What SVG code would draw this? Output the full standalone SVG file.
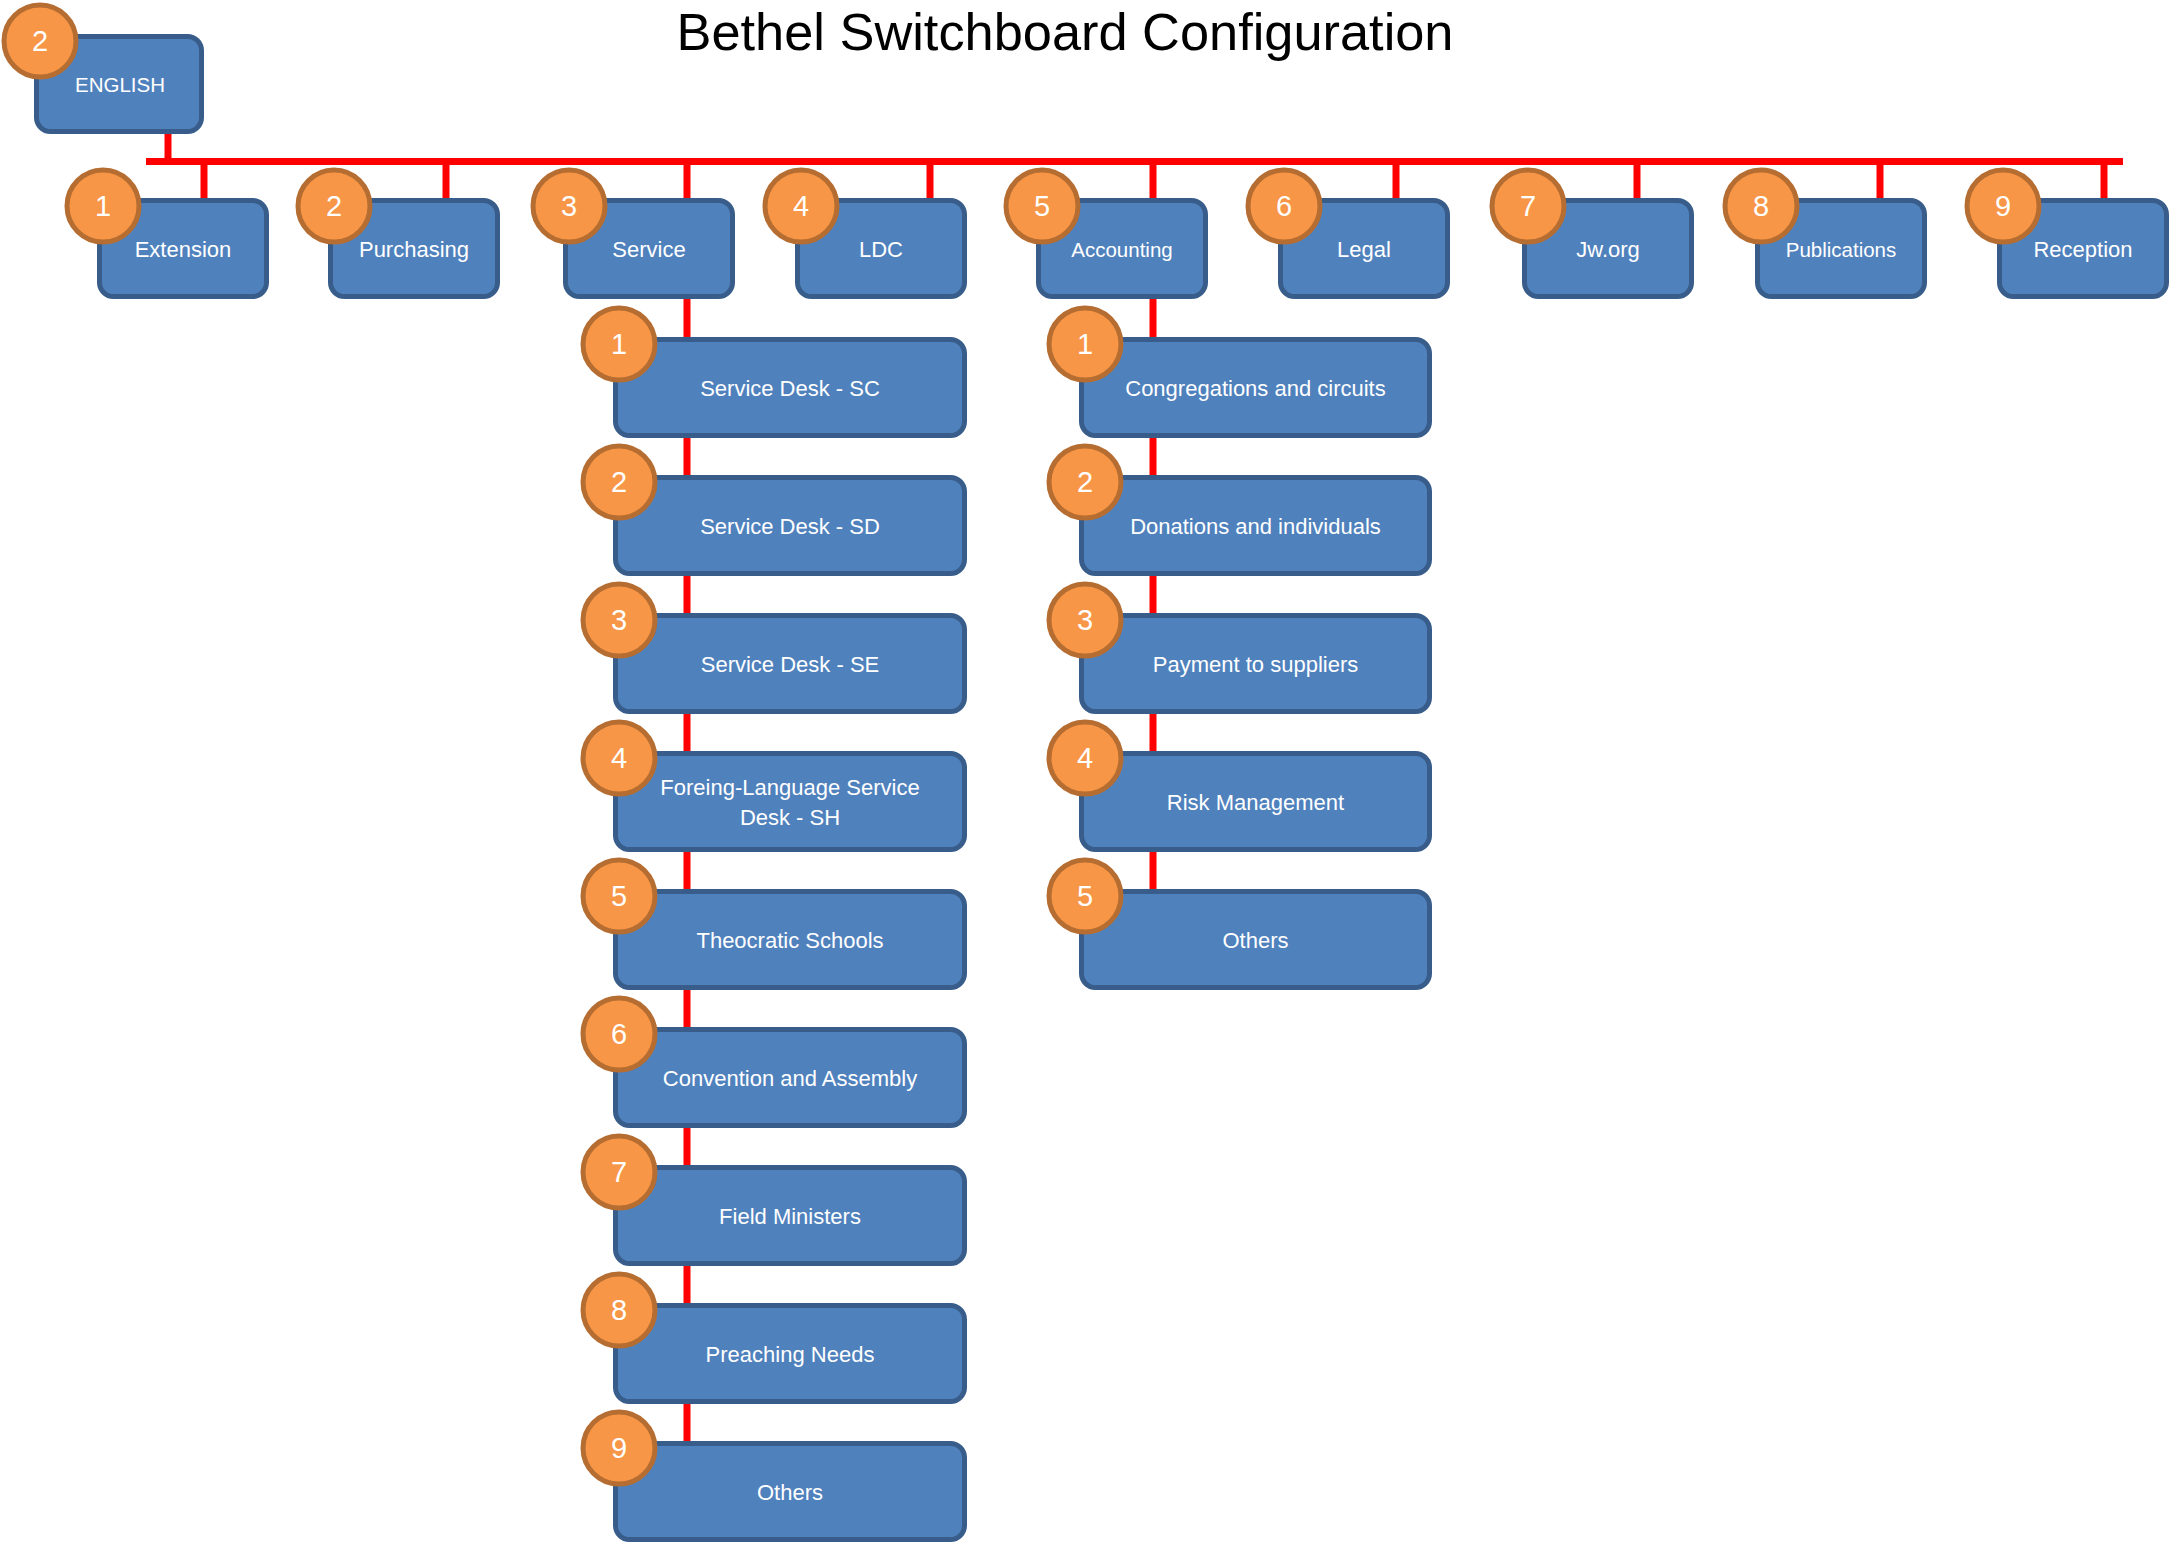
<svg xmlns="http://www.w3.org/2000/svg" width="2179" height="1543" viewBox="0 0 2179 1543">
<style>
.box{fill:#4F81BD;stroke:#385D8A;stroke-width:5}
.badge{fill:#F79646;stroke:#B66D31;stroke-width:5}
.lbl{font-family:"Liberation Sans",Arial,sans-serif;font-size:22px;fill:#FFFFFF;text-anchor:middle;dominant-baseline:central}
.sm{font-size:20.5px}
.num{font-family:"Liberation Sans",Arial,sans-serif;font-size:29px;fill:#FFFFFF;text-anchor:middle;dominant-baseline:central}
.wire{stroke:#FF0000;stroke-width:7;fill:none}
.title{font-family:"Liberation Sans",Arial,sans-serif;font-size:52px;fill:#000000;text-anchor:middle}
</style>
<rect width="2179" height="1543" fill="#FFFFFF"/>
<text class="title" x="1065" y="50" textLength="777" lengthAdjust="spacingAndGlyphs">Bethel Switchboard Configuration</text>
<g id="connectors">
<line class="wire" x1="146" y1="161.5" x2="2123" y2="161.5"/>
<line class="wire" x1="168" y1="132" x2="168" y2="162"/>
<line class="wire" x1="204" y1="161" x2="204" y2="201"/>
<line class="wire" x1="446" y1="161" x2="446" y2="201"/>
<line class="wire" x1="687" y1="161" x2="687" y2="1443"/>
<line class="wire" x1="930" y1="161" x2="930" y2="201"/>
<line class="wire" x1="1153" y1="161" x2="1153" y2="891"/>
<line class="wire" x1="1396" y1="161" x2="1396" y2="201"/>
<line class="wire" x1="1637" y1="161" x2="1637" y2="201"/>
<line class="wire" x1="1880" y1="161" x2="1880" y2="201"/>
<line class="wire" x1="2104" y1="161" x2="2104" y2="201"/>
</g>
<g id="english"><rect class="box" x="36.5" y="36.5" width="165" height="95" rx="14"/><text class="lbl sm" x="120" y="84">ENGLISH</text><circle class="badge" cx="40" cy="41" r="36"/><text class="num" x="40" y="41">2</text></g>
<g id="extension"><rect class="box" x="99.5" y="200.5" width="167" height="96" rx="14"/><text class="lbl" x="183" y="249">Extension</text><circle class="badge" cx="103" cy="206" r="36"/><text class="num" x="103" y="206">1</text></g>
<g id="purchasing"><rect class="box" x="330.5" y="200.5" width="167" height="96" rx="14"/><text class="lbl" x="414" y="249">Purchasing</text><circle class="badge" cx="334" cy="206" r="36"/><text class="num" x="334" y="206">2</text></g>
<g id="service"><rect class="box" x="565.5" y="200.5" width="167" height="96" rx="14"/><text class="lbl" x="649" y="249">Service</text><circle class="badge" cx="569" cy="206" r="36"/><text class="num" x="569" y="206">3</text></g>
<g id="ldc"><rect class="box" x="797.5" y="200.5" width="167" height="96" rx="14"/><text class="lbl" x="881" y="249">LDC</text><circle class="badge" cx="801" cy="206" r="36"/><text class="num" x="801" y="206">4</text></g>
<g id="accounting"><rect class="box" x="1038.5" y="200.5" width="167" height="96" rx="14"/><text class="lbl sm" x="1122" y="249">Accounting</text><circle class="badge" cx="1042" cy="206" r="36"/><text class="num" x="1042" y="206">5</text></g>
<g id="legal"><rect class="box" x="1280.5" y="200.5" width="167" height="96" rx="14"/><text class="lbl" x="1364" y="249">Legal</text><circle class="badge" cx="1284" cy="206" r="36"/><text class="num" x="1284" y="206">6</text></g>
<g id="jworg"><rect class="box" x="1524.5" y="200.5" width="167" height="96" rx="14"/><text class="lbl" x="1608" y="249">Jw.org</text><circle class="badge" cx="1528" cy="206" r="36"/><text class="num" x="1528" y="206">7</text></g>
<g id="publications"><rect class="box" x="1757.5" y="200.5" width="167" height="96" rx="14"/><text class="lbl sm" x="1841" y="249">Publications</text><circle class="badge" cx="1761" cy="206" r="36"/><text class="num" x="1761" y="206">8</text></g>
<g id="reception"><rect class="box" x="1999.5" y="200.5" width="167" height="96" rx="14"/><text class="lbl" x="2083" y="249">Reception</text><circle class="badge" cx="2003" cy="206" r="36"/><text class="num" x="2003" y="206">9</text></g>
<g id="svc1"><rect class="box" x="615.5" y="339.5" width="349" height="96" rx="14"/><text class="lbl" x="790" y="388">Service Desk - SC</text><circle class="badge" cx="619" cy="344" r="36"/><text class="num" x="619" y="344">1</text></g>
<g id="svc2"><rect class="box" x="615.5" y="477.5" width="349" height="96" rx="14"/><text class="lbl" x="790" y="526">Service Desk - SD</text><circle class="badge" cx="619" cy="482" r="36"/><text class="num" x="619" y="482">2</text></g>
<g id="svc3"><rect class="box" x="615.5" y="615.5" width="349" height="96" rx="14"/><text class="lbl" x="790" y="664">Service Desk - SE</text><circle class="badge" cx="619" cy="620" r="36"/><text class="num" x="619" y="620">3</text></g>
<g id="svc4"><rect class="box" x="615.5" y="753.5" width="349" height="96" rx="14"/><text class="lbl" x="790" y="787">Foreing-Language Service</text><text class="lbl" x="790" y="817">Desk - SH</text><circle class="badge" cx="619" cy="758" r="36"/><text class="num" x="619" y="758">4</text></g>
<g id="svc5"><rect class="box" x="615.5" y="891.5" width="349" height="96" rx="14"/><text class="lbl" x="790" y="940">Theocratic Schools</text><circle class="badge" cx="619" cy="896" r="36"/><text class="num" x="619" y="896">5</text></g>
<g id="svc6"><rect class="box" x="615.5" y="1029.5" width="349" height="96" rx="14"/><text class="lbl" x="790" y="1078">Convention and Assembly</text><circle class="badge" cx="619" cy="1034" r="36"/><text class="num" x="619" y="1034">6</text></g>
<g id="svc7"><rect class="box" x="615.5" y="1167.5" width="349" height="96" rx="14"/><text class="lbl" x="790" y="1216">Field Ministers</text><circle class="badge" cx="619" cy="1172" r="36"/><text class="num" x="619" y="1172">7</text></g>
<g id="svc8"><rect class="box" x="615.5" y="1305.5" width="349" height="96" rx="14"/><text class="lbl" x="790" y="1354">Preaching Needs</text><circle class="badge" cx="619" cy="1310" r="36"/><text class="num" x="619" y="1310">8</text></g>
<g id="svc9"><rect class="box" x="615.5" y="1443.5" width="349" height="96" rx="14"/><text class="lbl" x="790" y="1492">Others</text><circle class="badge" cx="619" cy="1448" r="36"/><text class="num" x="619" y="1448">9</text></g>
<g id="acc1"><rect class="box" x="1081.5" y="339.5" width="348" height="96" rx="14"/><text class="lbl" x="1255.5" y="388">Congregations and circuits</text><circle class="badge" cx="1085" cy="344" r="36"/><text class="num" x="1085" y="344">1</text></g>
<g id="acc2"><rect class="box" x="1081.5" y="477.5" width="348" height="96" rx="14"/><text class="lbl" x="1255.5" y="526">Donations and individuals</text><circle class="badge" cx="1085" cy="482" r="36"/><text class="num" x="1085" y="482">2</text></g>
<g id="acc3"><rect class="box" x="1081.5" y="615.5" width="348" height="96" rx="14"/><text class="lbl" x="1255.5" y="664">Payment to suppliers</text><circle class="badge" cx="1085" cy="620" r="36"/><text class="num" x="1085" y="620">3</text></g>
<g id="acc4"><rect class="box" x="1081.5" y="753.5" width="348" height="96" rx="14"/><text class="lbl" x="1255.5" y="802">Risk Management</text><circle class="badge" cx="1085" cy="758" r="36"/><text class="num" x="1085" y="758">4</text></g>
<g id="acc5"><rect class="box" x="1081.5" y="891.5" width="348" height="96" rx="14"/><text class="lbl" x="1255.5" y="940">Others</text><circle class="badge" cx="1085" cy="896" r="36"/><text class="num" x="1085" y="896">5</text></g>
</svg>
